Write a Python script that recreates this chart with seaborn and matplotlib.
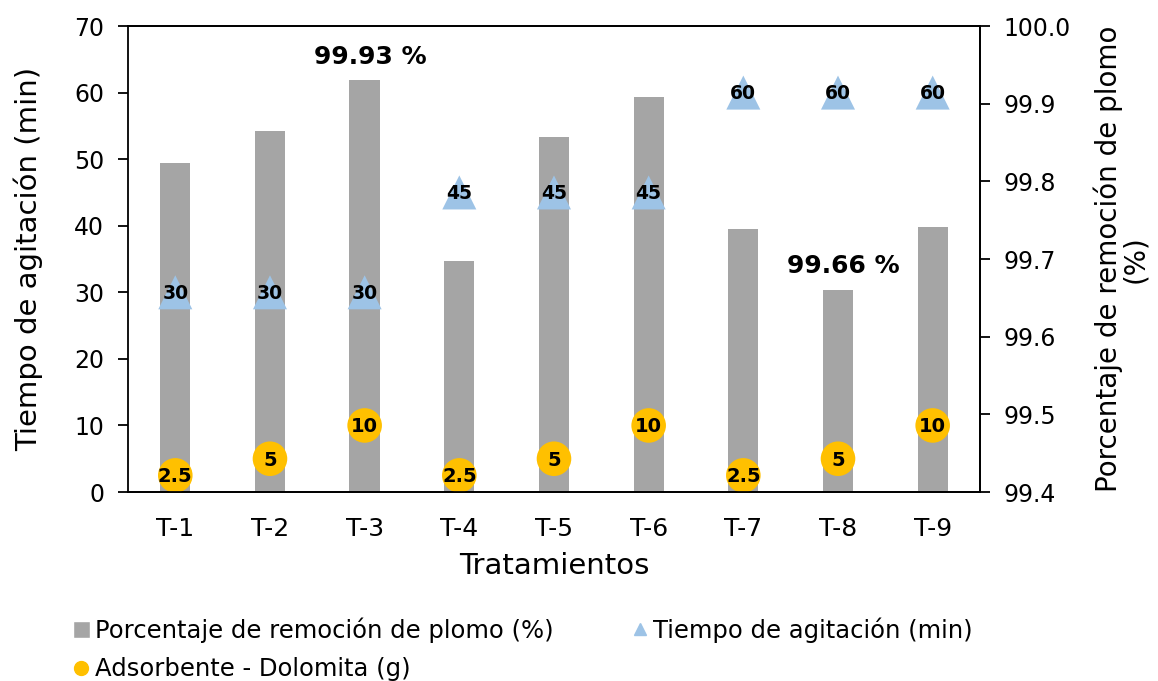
import numpy as np
import pandas as pd
import seaborn as sns
import matplotlib
matplotlib.use('Agg')
import matplotlib.pyplot as plt
from matplotlib.lines import Line2D
from matplotlib.patches import Patch

tratamientos = ['T-1', 'T-2', 'T-3', 'T-4', 'T-5', 'T-6', 'T-7', 'T-8', 'T-9']
remocion = [99.823, 99.865, 99.93, 99.698, 99.857, 99.908, 99.739, 99.66, 99.741]
tiempo = [30, 30, 30, 45, 45, 45, 60, 60, 60]
dolomita = [2.5, 5, 10, 2.5, 5, 10, 2.5, 5, 10]
dolomita_txt = ['2.5', '5', '10', '2.5', '5', '10', '2.5', '5', '10']

df = pd.DataFrame({'trat': tratamientos, 'rem': remocion, 'tiempo': tiempo, 'dol': dolomita})

sns.set_style('white')
plt.rcParams['font.family'] = ['DejaVu Sans']
for k in ['text.color', 'axes.labelcolor', 'xtick.color', 'ytick.color']:
    plt.rcParams[k] = 'black'

fig = plt.figure(figsize=(11.58, 6.81), dpi=100)
ax = fig.add_axes([0.1105, 0.2775, 0.7358, 0.6843])
ax2 = ax.twinx()

# bars on right axis, markers on left axis drawn on top
sns.barplot(data=df, x='trat', y='rem', color='#A5A5A5', width=0.32, ax=ax2,
            saturation=1, edgecolor='none')
ax2.set_ylim(99.4, 100.0)
ax2.set_yticks(np.arange(99.4, 100.01, 0.1))
ax2.set_yticklabels(['%.1f' % v for v in np.arange(99.4, 100.01, 0.1)], fontsize=17)
ax2.set_ylabel('Porcentaje de remoción de plomo\n(%)', fontsize=20, labelpad=16, linespacing=0.95)

ax.set_zorder(ax2.get_zorder() + 1)
ax.patch.set_visible(False)
sns.scatterplot(data=df, x='trat', y='tiempo', marker='^', s=600, color='#9DC3E6',
                edgecolor='none', ax=ax, legend=False)
sns.scatterplot(data=df, x='trat', y='dol', marker='o', s=620, color='#FFC000',
                edgecolor='none', ax=ax, legend=False)

for i, (t, d, dt) in enumerate(zip(tiempo, dolomita, dolomita_txt)):
    ax.text(i, t - 0.2, str(t), ha='center', va='center', fontsize=13.5, fontweight='bold')
    ax.text(i, d - 0.2, dt, ha='center', va='center', fontsize=14, fontweight='bold')

ax.text(2.06, 65.3, '99.93 %', ha='center', va='center', fontsize=18, fontweight='bold')
ax.text(7.06, 33.9, '99.66 %', ha='center', va='center', fontsize=18, fontweight='bold')

ax.set_ylim(0, 70)
ax.set_xlim(-0.5, 8.5)
ax2.set_xlim(-0.5, 8.5)
ax.set_yticks(range(0, 71, 10))
ax.tick_params(axis='y', labelsize=17, length=7, width=1.3, direction='out', left=True, pad=10)
ax2.tick_params(axis='y', length=7, width=1.3, direction='out', right=True, pad=10)
ax.tick_params(axis='x', labelsize=18, length=0, pad=18)
ax.set_xlabel('Tratamientos', fontsize=21, labelpad=8)
ax.set_ylabel('Tiempo de agitación (min)', fontsize=21, labelpad=22)

for a in (ax, ax2):
    for s in a.spines.values():
        s.set_color('black')
        s.set_linewidth(1.3)
ax2.spines['left'].set_visible(False)

handles = [Patch(facecolor='#A5A5A5', label='Porcentaje de remoción de plomo (%)'),
           Line2D([], [], marker='o', color='#FFC000', linestyle='none', markersize=10,
                  label='Adsorbente - Dolomita (g)'),
           Line2D([], [], marker='^', color='#9DC3E6', linestyle='none', markersize=9,
                  label='Tiempo de agitación (min)')]
fig.legend(handles=handles, loc='upper left', bbox_to_anchor=(0.044, 0.126), ncol=2,
           frameon=False, fontsize=17.5, handlelength=0.7, handletextpad=0.2,
           columnspacing=3.2, labelspacing=0.6)

fig.savefig('out.png', dpi=100)
